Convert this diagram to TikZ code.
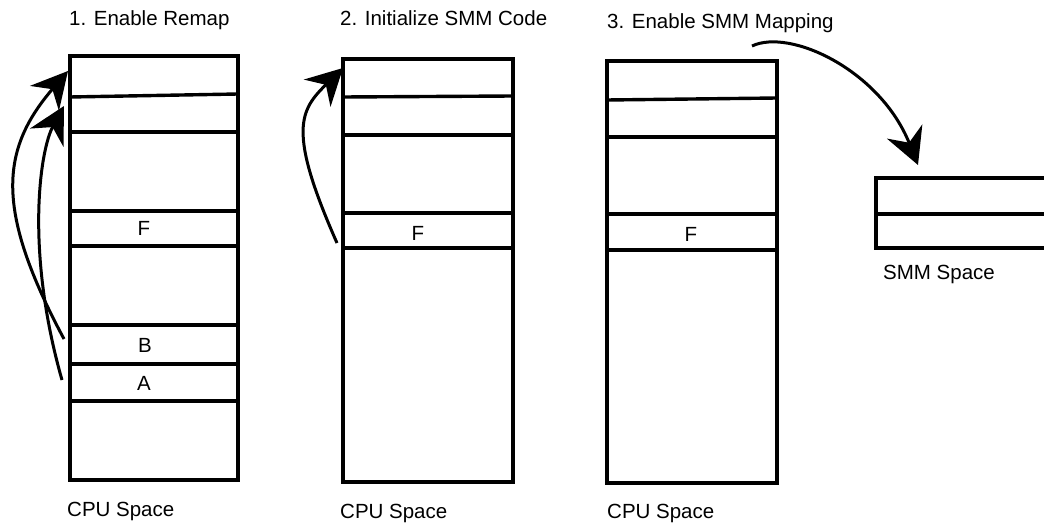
\documentclass[tikz,border=0pt]{standalone}
\usepackage{fontspec}
\setmainfont{Liberation Sans}
\usetikzlibrary{arrows.meta}
\tikzset{
  mem/.style={line width=3.4pt, line join=miter},
  div/.style={line width=3.4pt},
  lbl/.style={inner sep=0pt, font=\fontsize{20.5}{24}\selectfont},
  ttl/.style={lbl, anchor=base west},
  flow/.style={line width=3pt, -{Stealth[length=36pt, width=38pt, inset=12pt]}},
}
\begin{document}
\begin{tikzpicture}[x=1pt, y=-1pt]
\useasboundingbox (0,0) rectangle (1044,524);
% ---- column 1
\draw[mem] (70,56) rectangle (238,480);
\draw[div] (70,97) -- (238,94);
\draw[div] (70,132) -- (238,132);
\draw[div] (70,211) -- (238,211);
\draw[div] (70,246) -- (238,246);
\draw[div] (70,325) -- (238,325);
\draw[div] (72,364) -- (238,364);
\draw[div] (70,401) -- (238,401);
\node[lbl] (f1) at (144,228) {F};
\node[lbl] (b1) at (145,345) {B};
\node[lbl] (a1) at (144,383) {A};
\coordinate (t1a) at (68,71);
\coordinate (t1b) at (64,106);
\coordinate (s1a) at (64,339);
\coordinate (s1b) at (62,380);
\draw[flow] (s1a) .. controls (-5,210) and (0,150) .. (t1a);
\draw[flow] (s1b) .. controls (25,250) and (40,150) .. (t1b);
\node[ttl] (title1) at (69,26) {1. Enable Remap};
\node[ttl] (cpu1) at (67,516) {CPU Space};
% ---- column 2
\draw[mem] (343,59) rectangle (513,482);
\draw[div] (343,97) -- (513,96);
\draw[div] (343,135) -- (513,135);
\draw[div] (343,213) -- (513,213);
\draw[div] (343,248) -- (513,248);
\node[lbl] (f2) at (418,233) {F};
\coordinate (s2) at (337,243);
\coordinate (t2) at (343,68);
\draw[flow] (s2) .. controls (287,130) and (300,110) .. (t2);
\node[ttl] (title2) at (340,26) {2. Initialize SMM Code};
\node[ttl] (cpu2) at (340,518) {CPU Space};
% ---- column 3
\draw[mem] (607,61) rectangle (777,483);
\draw[div] (607,100) -- (777,98);
\draw[div] (607,137) -- (777,137);
\draw[div] (607,214) -- (777,214);
\draw[div] (607,250) -- (777,250);
\node[lbl] (f3) at (691,234) {F};
\node[ttl] (title3) at (607,29) {3. Enable SMM Mapping};
\node[ttl] (cpu3) at (607,518) {CPU Space};
% ---- SMM space
\draw[mem] (1050,178) -- (876,178) -- (876,248) -- (1050,248);
\draw[div] (876,214) -- (1050,214);
\node[ttl] (smm) at (883,279) {SMM Space};
\coordinate (s3) at (752,46);
\coordinate (t3) at (918,165);
\draw[flow] (s3) .. controls (790,28) and (880,70) .. (t3);
\end{tikzpicture}
\end{document}
